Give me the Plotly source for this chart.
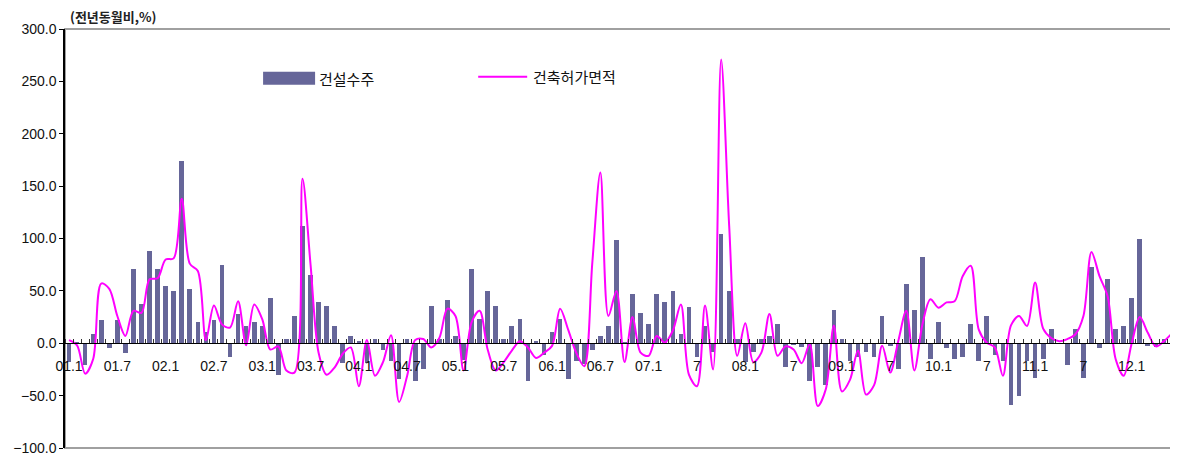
import plotly.graph_objects as go

# Monthly categories 2001.1 - 2012.6
months = [f"{y % 100:02d}.{m}" for y in range(2001, 2013) for m in range(1, 13)][:138]

tick_months = ["01.1", "01.7", "02.1", "02.7", "03.1", "03.7", "04.1", "04.7",
               "05.1", "05.7", "06.1", "06.7", "07.1", "07.7", "08.1", "08.7",
               "09.1", "09.7", "10.1", "10.7", "11.1", "11.7", "12.1"]
tick_text = ["01.1", "01.7", "02.1", "02.7", "03.1", "03.7", "04.1", "04.7",
             "05.1", "05.7", "06.1", "06.7", "07.1", "7", "08.1", "7",
             "09.1", "7", "10.1", "7", "11.1", "7", "12.1"]

# 건설수주 (bars), YoY %
orders = [
    -18, 1, -21, 8.6, 22, -5, 22, -9, 70.7, 37, 88, 70.7,
    55, 50, 174, 51.6, 20, 11, 22, 74.5, -13, 28, 16, 20,
    16, 43, -30, 4, 26, 112, 65, 39.5, 35.7, 16.5, -18.5, 7,
    2, -19, 4, -6, -17, -34, 4.5, -36, -25, 36, 4.5, 41,
    6.5, -16, 70.7, 23.6, 50, 36, 4.5, 16, 23.6, -36, 2, -11,
    11, 23, -34, -17, -20, -6, 6.5, 16, 99, 0.5, 47, 29,
    18, 47, 39, 50, 8.6, 35, -13, 16, -8, 104, 50, 4.5,
    -18, -8, 4.5, 6.5, 18, -22.6, -1, -4, -36, -22.6, -40, 31.5,
    4, -17, -13, -8, -13, 26, -2.5, -25, 57, 31.5, 82.5, -15,
    20, -5, -15, -13, 18, -17, 26, -11.5, -17, -59, -50, -17,
    -33, -15, 14, 0, -21, 14, -33, 73, -5, 61, 14, 16,
    43, 100, -2.5, -4, 4, 4,
]

# 건축허가면적 (line), YoY %
permits = [
    3, -2, -29, -15, 57, 52, 26, 7, 31, 29, 61, 62,
    80, 81, 138, 76, 69, 3, 36, 18, 15, 40, -2, 37,
    23, -6, -3, -26, -28, 157, 75, -9, -30, -23, -10, -4,
    -41, 3, -31, -18, 7.6, -56, -31, 3, 4, -4, 5, 33,
    26, -26, 20, 31, -6, -26, -18, -7, 2, -4, -14, -9,
    -2.5, 33, 13, -9, -22, 77, 163, 26, 50, -18, 25, -9,
    -12, 7, 0.6, 12, 37, -30, -41, 36, -25, 271, 112, -12,
    19, -18, -9, 28, -12, -3, -6, -19, -1, -60, -44, 17,
    -46, -35, -7, -49, -40, -2.5, -28, 2, 31, -26, 18, 42,
    34, 39, 40, 64, 74, 13, 0.6, -4, -31, 17, 26, 16.5,
    58, 14, 5, 2, 4, 8.6, 26, 87, 64, 45, -15, -31,
    0, 25, 10, -3, 2, 9.5,
]

x_idx = list(range(len(months)))
tick_vals = [months.index(m) for m in tick_months]

BAR_COLOR = "#666699"
LINE_COLOR = "#FF00FF"
FONT = "Liberation Sans, Arial, sans-serif"
KFONT = "Noto Sans CJK KR, sans-serif"

fig = go.Figure()
fig.add_trace(go.Bar(x=x_idx, y=orders, width=0.58, marker=dict(color=BAR_COLOR, line=dict(width=0)),
                     name="건설수주", showlegend=False))
fig.add_trace(go.Scatter(x=x_idx, y=permits, mode="lines",
                         line=dict(color=LINE_COLOR, width=2, shape="spline", smoothing=0.9),
                         name="건축허가면적", showlegend=False))

fig.update_layout(
    width=1170, height=449,
    margin=dict(l=57, r=2, t=21, b=9),
    paper_bgcolor="white", plot_bgcolor="white",
    bargap=0,
    xaxis=dict(
        range=[-0.5, len(months) - 0.5],
        tickmode="array", tickvals=tick_vals, ticktext=tick_text,
        ticks="outside", ticklen=10, tickcolor="rgba(0,0,0,0)",
        tickfont=dict(family=FONT, size=14, color="#111"),
        showline=True, linecolor="black", linewidth=1,
        showgrid=False, zeroline=False,
        anchor="free", position=0.25,
        minor=dict(tickmode="array", tickvals=[i - 0.5 for i in range(len(months) + 1)],
                   ticks="inside", ticklen=4, tickcolor="#333", tickwidth=1, showgrid=False),
    ),
    yaxis=dict(
        range=[-100, 300], dtick=50, tick0=0, tickformat=".1f",
        tickfont=dict(family=FONT, size=14, color="#111"),
        showline=True, linecolor="black", linewidth=1.5,
        ticks="outside", ticklen=4, tickcolor="black",
        showgrid=False, zeroline=False,
    ),
    shapes=[
        dict(type="rect", xref="paper", yref="paper", x0=0, x1=1, y0=0, y1=1,
             line=dict(color="#A0A0A0", width=2), layer="below"),
        # legend swatches
        dict(type="rect", xref="paper", yref="paper", x0=0.1783, x1=0.2251, y0=0.867, y1=0.898,
             fillcolor=BAR_COLOR, line=dict(width=0)),
        dict(type="line", xref="paper", yref="paper", x0=0.3719, x1=0.416, y0=0.886, y1=0.886,
             line=dict(color=LINE_COLOR, width=2)),
    ],
    annotations=[
        dict(text="<b>(전년동월비,%)</b>", xref="paper", yref="paper", x=0.003, y=1.029,
             xanchor="left", yanchor="middle", showarrow=False,
             font=dict(family=KFONT, size=13, color="#222")),
        dict(text="건설수주", xref="paper", yref="paper", x=0.2265, y=0.8826,
             xanchor="left", yanchor="middle", showarrow=False,
             font=dict(family=KFONT, size=15, color="#111")),
        dict(text="건축허가면적", xref="paper", yref="paper", x=0.4195, y=0.886,
             xanchor="left", yanchor="middle", showarrow=False,
             font=dict(family=KFONT, size=15, color="#111")),
    ],
)

fig.write_html("out.html")
